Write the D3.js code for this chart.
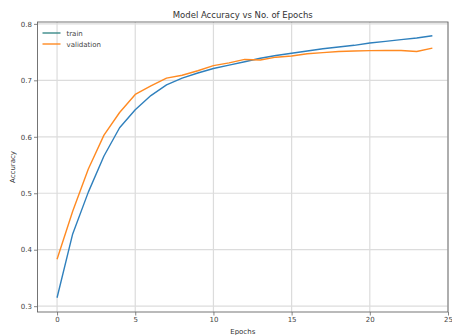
<!DOCTYPE html>
<html>
<head>
<meta charset="utf-8">
<script src="https://cdn.jsdelivr.net/npm/d3@7"></script>
<style>
  html, body { margin: 0; padding: 0; background: #fff; }
  svg { display: block; font-family: "DejaVu Sans", sans-serif; }
</style>
</head>
<body>
<svg id="chart" width="452" height="335"></svg>
<script>
// Accuracy per epoch for the training and validation sets
const epochs = d3.range(0, 25);
const trainAcc = [0.315, 0.428, 0.502, 0.566, 0.616, 0.648, 0.673, 0.692, 0.704, 0.713,
                  0.721, 0.727, 0.733, 0.739, 0.744, 0.748, 0.752, 0.756, 0.759, 0.762,
                  0.766, 0.769, 0.772, 0.775, 0.779];
const valAcc   = [0.383, 0.468, 0.543, 0.603, 0.643, 0.675, 0.690, 0.704, 0.709, 0.717,
                  0.726, 0.731, 0.737, 0.736, 0.741, 0.743, 0.747, 0.749, 0.751, 0.752,
                  0.7526, 0.753, 0.7527, 0.751, 0.757];
const xTicks = [0, 5, 10, 15, 20, 25];
const yTicks = [0.3, 0.4, 0.5, 0.6, 0.7, 0.8];
const seriesNames = ["train", "validation"];
const colors = ["#2f80bd", "#ff8a22"];

const svg = d3.select("#chart");
const m = { left: 37.5, right: 448, top: 22, bottom: 312 };

const x = d3.scaleLinear().domain([-1.25, 25]).range([m.left, m.right]);
const y = d3.scaleLinear().domain([0.2897, 0.8033]).range([m.bottom, m.top]);

// grid
const grid = svg.append("g").attr("stroke", "#dcdcdc").attr("stroke-width", 1.2);
grid.selectAll(".gx").data(xTicks).join("line")
  .attr("x1", d => x(d)).attr("x2", d => x(d))
  .attr("y1", m.top).attr("y2", m.bottom);
grid.selectAll(".gy").data(yTicks).join("line")
  .attr("x1", m.left).attr("x2", m.right)
  .attr("y1", d => y(d)).attr("y2", d => y(d));

// lines
const line = d3.line().x((d, i) => x(epochs[i])).y(d => y(d));
[trainAcc, valAcc].forEach((s, k) => {
  svg.append("path").datum(s)
    .attr("fill", "none").attr("stroke", colors[k]).attr("stroke-width", 1.4)
    .attr("stroke-linejoin", "round")
    .attr("d", line);
});

// frame
svg.append("rect")
  .attr("x", m.left).attr("y", m.top)
  .attr("width", m.right - m.left).attr("height", m.bottom - m.top)
  .attr("fill", "none").attr("stroke", "#666").attr("stroke-width", 0.9);

// axes
const xAxis = svg.append("g").attr("transform", `translate(0,${m.bottom})`)
  .call(d3.axisBottom(x).tickValues(xTicks).tickSize(3.5).tickPadding(2).tickFormat(d3.format("d")));
const yAxis = svg.append("g").attr("transform", `translate(${m.left},0)`)
  .call(d3.axisLeft(y).tickValues(yTicks).tickSize(3.5).tickPadding(2).tickFormat(d3.format(".1f")));
[xAxis, yAxis].forEach(a => {
  a.select(".domain").remove();
  a.selectAll(".tick line").attr("stroke", "#666").attr("stroke-width", 0.8);
  a.selectAll(".tick text").attr("fill", "#444").attr("font-size", 7)
    .attr("font-family", "DejaVu Sans, sans-serif");
});

// title and axis labels
svg.append("text").attr("x", (m.left + m.right) / 2).attr("y", 18)
  .attr("text-anchor", "middle").attr("font-size", 8.5).attr("fill", "#333")
  .text("Model Accuracy vs No. of Epochs");
svg.append("text").attr("x", (m.left + m.right) / 2).attr("y", 334)
  .attr("text-anchor", "middle").attr("font-size", 7).attr("fill", "#333")
  .text("Epochs");
svg.append("text")
  .attr("transform", `translate(15,${(m.top + m.bottom) / 2}) rotate(-90)`)
  .attr("text-anchor", "middle").attr("font-size", 7).attr("fill", "#333")
  .text("Accuracy");

// legend
const legend = svg.append("g").attr("transform", `translate(${m.left + 5},${m.top + 11})`);
seriesNames.forEach((name, i) => {
  const g = legend.append("g").attr("transform", `translate(0,${i * 11})`);
  g.append("line").attr("x1", 0).attr("x2", 18).attr("y1", 0).attr("y2", 0)
    .attr("stroke", i === 0 ? "#3a8a88" : colors[i]).attr("stroke-width", 1.4);
  g.append("text").attr("x", 24).attr("y", 2.5).attr("font-size", 7).attr("fill", "#444")
    .text(name);
});
</script>
</body>
</html>
